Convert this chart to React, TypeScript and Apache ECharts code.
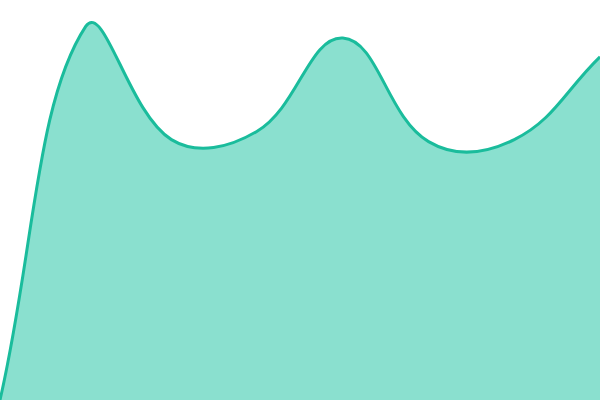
import * as echarts from 'echarts';
import { useEffect, useRef } from 'react';

const categories = ['1', '2', '3', '4', '5', '6', '7', '8'];
const values = [0, 93.4, 65.1, 67.2, 90.5, 64.6, 65.1, 85.8];

const LINE_COLOR = '#1abc9c';
const FILL_COLOR = '#8ae0cf';
const TENSION = 0.4;

type Pt = number[];

// spline control points, weighted by segment length (prev cp, next cp)
function controlPoints(prev: Pt, cur: Pt, next: Pt, t: number) {
  const d01 = Math.hypot(cur[0] - prev[0], cur[1] - prev[1]);
  const d12 = Math.hypot(next[0] - cur[0], next[1] - cur[1]);
  let s01 = d01 / (d01 + d12);
  let s12 = d12 / (d01 + d12);
  if (isNaN(s01)) s01 = 0;
  if (isNaN(s12)) s12 = 0;
  const fa = t * s01;
  const fb = t * s12;
  return {
    before: [cur[0] - fa * (next[0] - prev[0]), cur[1] - fa * (next[1] - prev[1])],
    after: [cur[0] + fb * (next[0] - prev[0]), cur[1] + fb * (next[1] - prev[1])],
  };
}

export default function App() {
  const chartRef = useRef<HTMLDivElement>(null);

  useEffect(() => {
    document.body.style.margin = '0';
    if (!chartRef.current) return;
    const chart = echarts.init(chartRef.current, undefined, { renderer: 'svg' });

    chart.setOption({
      animation: false,
      backgroundColor: '#ffffff',
      grid: { left: 0, right: 0, top: 0, bottom: 0 },
      xAxis: {
        type: 'category',
        data: categories,
        boundaryGap: false,
        show: false,
      },
      yAxis: {
        type: 'value',
        min: 0,
        max: 100,
        show: false,
      },
      series: [
        {
          type: 'custom',
          data: values.map((v, i) => [i, v]),
          encode: { x: 0, y: 1 },
          clip: false,
          renderItem: (params: any, api: any) => {
            // the whole curve is drawn once, from every point
            if (params.dataIndex !== 0) return null;
            const cs = params.coordSys;
            const cap = (p: Pt) => [
              Math.min(Math.max(p[0], cs.x), cs.x + cs.width),
              Math.min(Math.max(p[1], cs.y), cs.y + cs.height),
            ];
            const pts: Pt[] = values.map((v, i) => api.coord([i, v]));
            const cps = pts.map((p, i) => {
              const prev = pts[i - 1] || p;
              const next = pts[i + 1] || p;
              const c = controlPoints(prev, p, next, TENSION);
              return { before: cap(c.before), after: cap(c.after) };
            });

            let d = `M${pts[0][0]},${pts[0][1]}`;
            for (let i = 1; i < pts.length; i++) {
              const a = cps[i - 1].after;
              const b = cps[i].before;
              d += ` C${a[0]},${a[1]} ${b[0]},${b[1]} ${pts[i][0]},${pts[i][1]}`;
            }
            const base0 = api.coord([0, 0]);
            const base1 = api.coord([values.length - 1, 0]);
            const fillD = `${d} L${base1[0]},${base1[1]} L${base0[0]},${base0[1]} Z`;

            return {
              type: 'group',
              children: [
                {
                  type: 'path',
                  shape: { pathData: fillD },
                  style: { fill: FILL_COLOR, stroke: 'none' },
                },
                {
                  type: 'path',
                  shape: { pathData: d },
                  style: { fill: 'none', stroke: LINE_COLOR, lineWidth: 3 },
                },
              ],
            };
          },
        },
      ],
    });

    return () => chart.dispose();
  }, []);

  return <div ref={chartRef} style={{ width: 600, height: 400 }} />;
}
